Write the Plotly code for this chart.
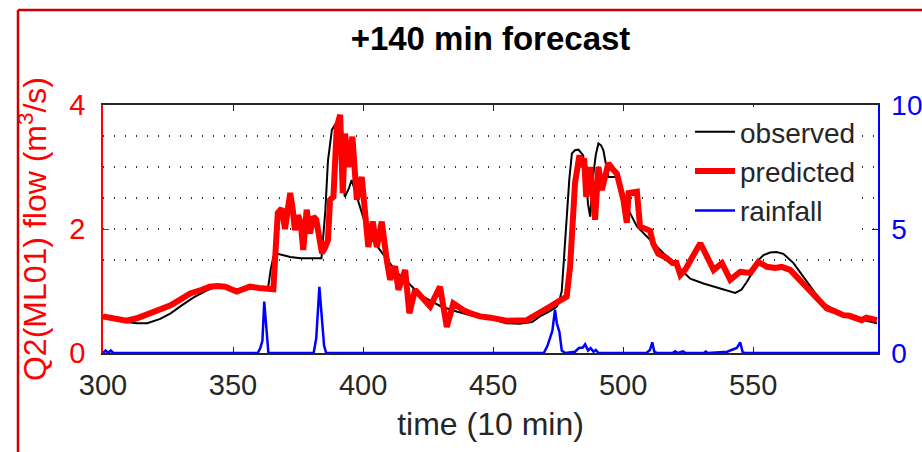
import plotly.graph_objects as go

# ---------------- data ----------------
obs_t = [300, 305, 309, 313, 317, 322, 326, 330, 335, 340, 344, 348, 353, 356.5, 360, 363.5,
         364.5, 365.5, 367, 369, 372, 376, 380, 384, 385.5, 386.5, 388, 389.5, 390.5, 391.5,
         393, 394.5, 395.6, 397, 399, 401.4, 404, 406.5, 410, 413, 417, 420, 423, 430, 436,
         442, 449, 455, 460, 465, 468, 472, 474.5, 475.5, 476.4, 477.4, 478.3, 479.3, 480.3,
         481.5, 482.8, 484.6, 485.5, 486.5, 487.3, 488, 488.6, 489.5, 490.5, 491.5, 492.4,
         494.3, 497.6, 499.5, 501.4, 505.3, 510.4, 515.5, 519, 522, 525.8, 530.9, 537.3,
         543.1, 545.5, 547.6, 550, 552, 554, 556.5, 559, 561.6, 565.5, 568, 570.6, 574, 577,
         581, 584.7, 588, 592.4, 597.6]
obs_v = [0.60, 0.55, 0.50, 0.48, 0.48, 0.55, 0.64, 0.76, 0.90, 1.01, 1.08, 1.07, 0.99, 1.06,
         1.05, 1.06, 1.35, 1.55, 1.60, 1.58, 1.55, 1.53, 1.53, 1.53, 2.30, 3.10, 3.60, 3.70,
         3.50, 3.00, 2.52, 2.65, 2.79, 2.60, 2.31, 2.01, 1.80, 1.66, 1.45, 1.30, 1.15, 1.02,
         0.91, 0.75, 0.67, 0.60, 0.56, 0.48, 0.47, 0.50, 0.59, 0.68, 0.75, 0.85, 1.00, 1.60,
         2.20, 2.80, 3.22, 3.27, 3.28, 3.19, 2.90, 2.40, 2.20, 2.60, 2.90, 3.20, 3.38, 3.35,
         3.27, 2.84, 2.84, 2.60, 2.36, 2.04, 1.82, 1.61, 1.48, 1.35, 1.20, 1.12, 1.04, 0.97,
         1.02, 1.15, 1.32, 1.50, 1.58, 1.62, 1.63, 1.60, 1.45, 1.30, 1.15, 0.96, 0.80, 0.70,
         0.61, 0.56, 0.53, 0.48]

pred_t = [300, 304, 309, 313, 318, 322, 326, 330, 333.5, 338, 341, 344, 347, 351.4, 354,
          356.5, 360, 363, 365.5, 366.3, 367.2, 368.7, 370, 371, 372, 373, 373.8, 375, 376,
          377, 378.3, 379.6, 380.9, 382, 383, 384.2, 385.5, 386.5, 387.3, 388.6, 389.9, 391.2,
          392.2, 393.1, 394.3, 395.9, 397.6, 399.5, 402, 403.7, 405.3, 407.2, 409.1, 410.4,
          412.3, 413.6, 416.2, 417.8, 420, 423.2, 425.8, 429.6, 432.2, 434.7, 438.6, 442, 445,
          449, 455, 463, 468, 471.9, 475, 478.3, 479.6, 480.5, 481.5, 483.2, 484, 485, 485.8,
          487.3, 488.3, 489.2, 490.5, 491.8, 493.5, 494.3, 496.3, 497.6, 500.1, 501.4, 502.1,
          505.3, 506.5, 508.5, 510.4, 511.5, 513.5, 516.8, 519, 520.5, 522, 524, 525.8, 528,
          529.7, 532.2, 534.8, 538, 541.2, 545, 548.9, 552, 555.3, 558.5, 561, 564.2, 567,
          569.3, 574.4, 578.3, 581, 584.7, 587, 589.2, 591.7, 593.5, 595.6, 597.6]
pred_v = [0.59, 0.55, 0.52, 0.56, 0.64, 0.70, 0.77, 0.87, 0.96, 1.02, 1.07, 1.08, 1.07, 0.99,
          1.02, 1.07, 1.05, 1.04, 1.03, 1.60, 2.26, 2.33, 2.00, 2.30, 2.58, 2.30, 1.98, 2.22,
          2.10, 1.66, 2.31, 1.93, 2.20, 2.15, 1.90, 1.61, 1.71, 1.82, 2.47, 2.52, 3.65, 3.84,
          2.58, 3.54, 3.00, 3.49, 2.47, 2.84, 1.71, 2.12, 1.71, 2.12, 1.50, 1.18, 1.40, 1.02,
          1.34, 0.64, 1.02, 0.85, 0.75, 1.07, 0.42, 0.80, 0.69, 0.63, 0.59, 0.57, 0.52, 0.53,
          0.64, 0.75, 0.83, 0.91, 1.39, 2.10, 2.74, 3.19, 3.00, 3.14, 2.52, 3.00, 2.36, 2.15,
          3.00, 2.63, 2.92, 3.06, 2.95, 2.89, 2.47, 2.10, 2.58, 2.60, 2.04, 2.00, 1.97, 1.77,
          1.60, 1.53, 1.45, 1.45, 1.26, 1.35, 1.50, 1.65, 1.77, 1.55, 1.34, 1.45, 1.18, 1.31,
          1.29, 1.47, 1.39, 1.37, 1.39, 1.34, 1.22, 1.10, 0.91, 0.72, 0.68, 0.61, 0.60, 0.56,
          0.53, 0.57, 0.56, 0.53]

rain_t = [300, 301, 302, 303, 304, 359.5, 360.5, 361.3, 362, 362.8, 363.6, 381, 382, 383.2,
          384.2, 385, 385.8, 469.5, 470.9, 472.2, 472.8, 473.8, 474.5, 475.5, 476.4, 477.7,
          481.5, 483, 484.5, 485.4, 486.5, 487.5, 488.6, 489.5, 490.5, 509, 510.3, 511.2, 512,
          513, 519, 520, 521, 523, 524, 531, 531.8, 532.5, 540, 543.7, 545, 546, 547, 598]
rain_v = [0.0, 0.1, 0.0, 0.1, 0.0, 0.0, 0.2, 0.5, 2.07, 1.0, 0.0, 0.0, 0.6, 2.67, 1.5, 0.3,
          0.0, 0.0, 0.29, 0.7, 0.9, 1.75, 1.2, 0.85, 0.1, 0.0, 0.05, 0.2, 0.22, 0.35, 0.1, 0.2,
          0.05, 0.12, 0.0, 0.0, 0.12, 0.43, 0.05, 0.0, 0.0, 0.07, 0.0, 0.07, 0.0, 0.0, 0.06,
          0.0, 0.05, 0.2, 0.43, 0.02, 0.0, 0.0]

x_ticks = [300, 350, 400, 450, 500, 550]
y_ticks = [0, 2, 4]
y_minor = [1.5, 2.5, 3, 3.5]
y2_ticks = [0, 5, 10]

title_text = "+140 min forecast"
x_label = "time (10 min)"
y_label = "Q2(ML01) flow (m<sup>3</sup>/s)"

# ---------------- figure ----------------
FONT = "Liberation Sans, Arial, Helvetica, sans-serif"
DARK = "#262626"

fig = go.Figure()
fig.add_trace(go.Scatter(x=obs_t, y=obs_v, name="observed", mode="lines",
                         line=dict(color="black", width=2), yaxis="y"))
fig.add_trace(go.Scatter(x=pred_t, y=pred_v, name="predicted", mode="lines",
                         line=dict(color="#ff0000", width=6), yaxis="y"))
fig.add_trace(go.Scatter(x=rain_t, y=rain_v, name="rainfall", mode="lines",
                         line=dict(color="#0000ff", width=2.5), yaxis="y2"))

fig.update_layout(
    width=922, height=452, autosize=False,
    margin=dict(l=103, r=44, t=105, b=99),
    paper_bgcolor="white", plot_bgcolor="white",
    font=dict(family=FONT, color=DARK),
    showlegend=True,
    title=dict(text=title_text, x=0.5, xref="paper", xanchor="center",
               y=1 - 38 / 452, yref="container", yanchor="middle",
               font=dict(family=FONT, size=33, color="black", weight="bold")),
    xaxis=dict(range=[300, 598], tickvals=x_ticks, ticks="inside", ticklen=6,
               tickcolor=DARK, showline=True, linecolor=DARK, linewidth=1.5,
               mirror="ticks", showgrid=False, zeroline=False, automargin=False,
               tickfont=dict(size=29, color=DARK), ticklabelstandoff=5,
               title=dict(text=x_label, font=dict(size=32, color=DARK), standoff=13)),
    yaxis=dict(range=[0, 4], tickvals=y_ticks, ticks="inside", ticklen=6,
               tickcolor="#ff0000", showline=True, linecolor="#ff0000", linewidth=1.5,
               showgrid=True, gridcolor="#333333", griddash="1px,10px", gridwidth=1.5,
               zeroline=False, automargin=False,
               minor=dict(tickvals=y_minor, showgrid=True, gridcolor="#333333",
                          griddash="1px,10px", gridwidth=1.5, ticks=""),
               tickfont=dict(size=29, color="#ff0000"), ticklabelstandoff=10,
               title=dict(text=y_label, font=dict(size=32, color="#ff0000"), standoff=13)),
    yaxis2=dict(range=[0, 10], tickvals=y2_ticks, overlaying="y", side="right",
                ticks="inside", ticklen=6, tickcolor="#0000ff", showline=True,
                linecolor="#0000ff", linewidth=1.5, showgrid=False, zeroline=False,
                automargin=False,
                tickfont=dict(size=28, color="#0000ff"), ticklabelstandoff=6),
    legend=dict(x=(690 - 103) / 775, y=1 - (107 - 105) / 248, xanchor="left",
                yanchor="top", bgcolor="white", borderwidth=0,
                font=dict(size=28, color=DARK), itemwidth=40, tracegroupgap=0),
)

# outer red frame (screenshot border)
fig.add_shape(type="line", xref="paper", yref="paper",
              x0=(18 - 103) / 775, x1=(930 - 103) / 775,
              y0=1 + (105 - 10) / 248, y1=1 + (105 - 10) / 248,
              line=dict(color="#cc0000", width=2.5), layer="above")
fig.add_shape(type="line", xref="paper", yref="paper",
              x0=(18 - 103) / 775, x1=(18 - 103) / 775,
              y0=1 + (105 - 10) / 248, y1=-(470 - 353) / 248,
              line=dict(color="#cc0000", width=2.5), layer="above")

fig.write_html(
    "out.html",
    config={"responsive": False, "displayModeBar": False},
    post_script="document.body.style.margin='0px';document.body.style.overflow='hidden';",
)
